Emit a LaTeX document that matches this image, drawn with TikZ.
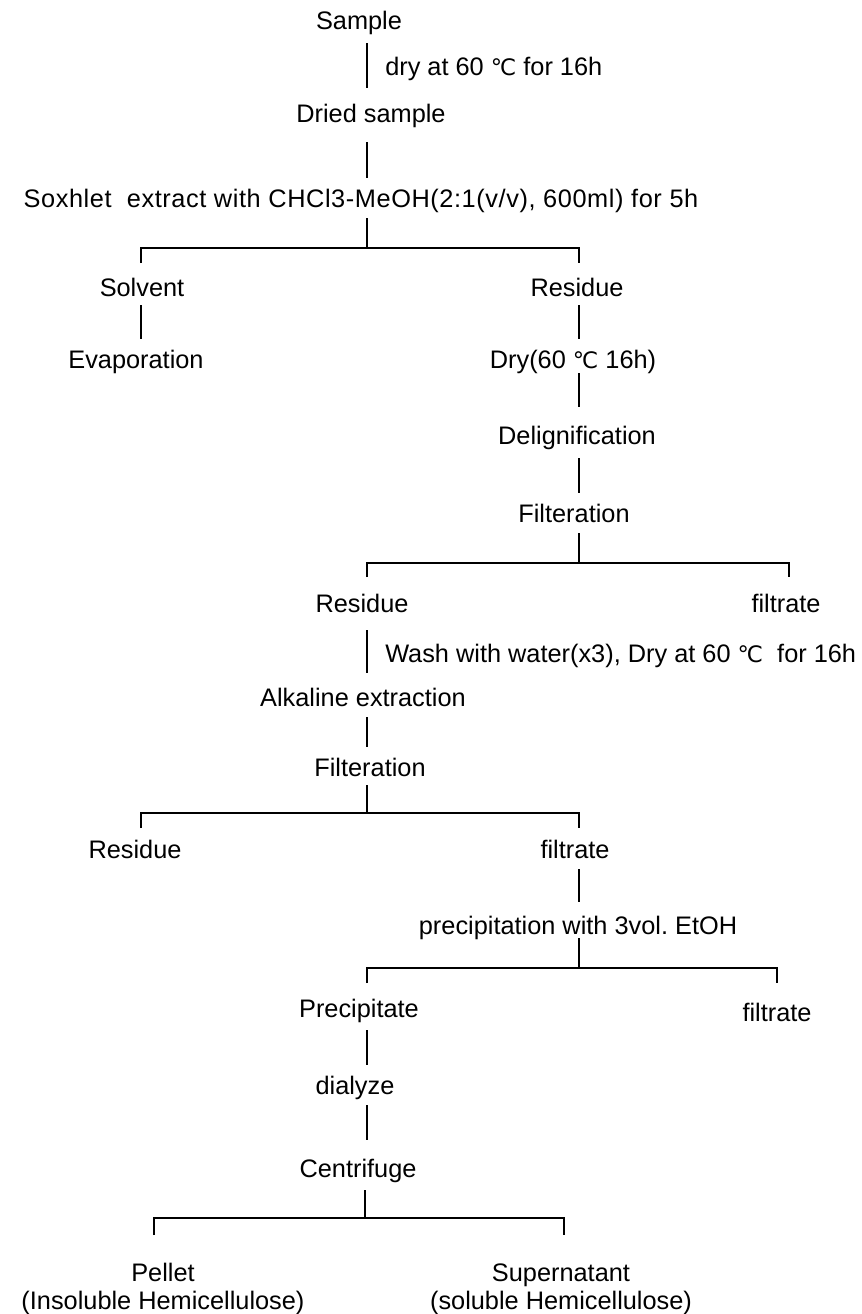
\documentclass[tikz,border=0pt]{standalone}
\usepackage{fontspec}
\setmainfont{Liberation Sans}
\newfontfamily\degfont{DejaVu Sans}
% degree Celsius sign, set a little smaller than the text around it
\newcommand{\degC}{{\degfont\fontsize{17}{17}\selectfont ℃}}
\frenchspacing
\begin{document}
\begin{tikzpicture}[x=0.75pt,y=-0.75pt,
  every node/.style={font=\fontsize{19}{21}\selectfont},
  txt/.style={inner xsep=0pt,inner ysep=8.25pt,text height=13.6pt,text depth=0pt},
  note/.style={txt,anchor=west},
  link/.style={line width=0.9pt}]
\useasboundingbox (0,0) rectangle (862,1314);

% vertical line columns
\coordinate (cA) at (367,0);
\coordinate (cL) at (141,0);
\coordinate (cR) at (579,0);

% steps
\node[txt] (sample)  at (359,20)  {Sample};
\node[note] (drylbl) at (385,66)  {dry at 60 \degC\ for 16h};
\node[txt] (dried)   at (371,113) {Dried sample};
\node[txt] (soxhlet) at (361,198) {\addfontfeature{LetterSpace=2.3}Soxhlet~ extract with CHCl3-MeOH(2:1(v/v), 600ml) for 5h};

\node[txt] (solvent) at (142,287) {Solvent};
\node[txt] (evap)    at (136,359) {Evaporation};
\node[txt] (res1)    at (577,287) {Residue};
\node[txt] (dry)     at (573,359) {Dry(60 \degC\ 16h)};
\node[txt] (delig)   at (577,435) {Delignification};
\node[txt] (filt1)   at (574,513) {Filteration};

\node[txt] (res2)    at (362,603) {Residue};
\node[txt] (filtr1)  at (786,603) {filtrate};
\node[note] (washlbl) at (385,653) {Wash with water(x3), Dry at 60 \degC\ \ for 16h};
\node[txt] (alk)     at (363,697) {Alkaline extraction};
\node[txt] (filt2)   at (370,767) {Filteration};

\node[txt] (res3)    at (135,849) {Residue};
\node[txt] (filtr2)  at (575,849) {filtrate};
\node[txt] (precip)  at (578,925) {precipitation with 3vol. EtOH};

\node[txt] (pptate)  at (359,1008) {Precipitate};
\node[txt] (filtr3)  at (777,1012) {filtrate};
\node[txt] (dialyze) at (355,1085) {dialyze};
\node[txt] (centri)  at (358,1168) {Centrifuge};

\node[txt] (pellet)   at (163,1272) {Pellet};
\node[txt] (pelletnt) at (163,1300) {(Insoluble Hemicellulose)};
\node[txt] (super)    at (561,1272) {Supernatant};
\node[txt] (supernt)  at (561,1300) {(soluble Hemicellulose)};

% connectors
\draw[link,shorten <=2.25pt,shorten >=3.75pt] (sample.south -| cA) -- (dried.north -| cA);
\draw[link,shorten <=6.75pt] (dried.south -| cA) -- (soxhlet.north -| cA);

\coordinate (j1) at (367,248);
\coordinate (t1L) at (141,263);
\coordinate (t1R) at (579,263);
\draw[link] (soxhlet.south -| j1) -- (j1);
\draw[link] (t1L) |- (j1) -| (t1R);

\draw[link,shorten <=-1.5pt] (solvent.south -| cL) -- (evap.north -| cL);
\draw[link,shorten <=-1.5pt] (res1.south -| cR) -- (dry.north -| cR);
\draw[link,shorten <=-4.5pt,shorten >=6pt] (dry.south -| cR) -- (delig.north -| cR);
\draw[link,shorten <=2.25pt] (delig.south -| cR) -- (filt1.north -| cR);

\coordinate (j2) at (579,563);
\coordinate (t2L) at (367,577);
\coordinate (t2R) at (789,577);
\draw[link] (filt1.south -| j2) -- (j2);
\draw[link] (t2L) |- (j2) -| (t2R);

\draw[link,shorten <=5.25pt,shorten >=3pt] (res2.south -| cA) -- (alk.north -| cA);
\draw[link] (alk.south -| cA) -- (filt2.north -| cA);

\coordinate (j3) at (367,813);
\coordinate (t3L) at (141,828);
\coordinate (t3R) at (579,828);
\draw[link,shorten <=-1.5pt] (filt2.south -| j3) -- (j3);
\draw[link] (t3L) |- (j3) -| (t3R);

\draw[link,shorten >=2.25pt] (filtr2.south -| cR) -- (precip.north -| cR);

\coordinate (j4) at (579,968);
\coordinate (t4L) at (367,983);
\coordinate (t4R) at (777,983);
\draw[link,shorten <=-5.25pt] (precip.south -| j4) -- (j4);
\draw[link] (t4L) |- (j4) -| (t4R);

\draw[link,shorten <=1.5pt] (pptate.south -| cA) -- (dialyze.north -| cA);
\draw[link,shorten >=6pt] (dialyze.south -| cA) -- (centri.north -| cA);

\coordinate (j5) at (365,1218);
\coordinate (t5L) at (154,1235);
\coordinate (t5R) at (564,1235);
\draw[link,shorten <=1.5pt] (centri.south -| j5) -- (j5);
\draw[link] (t5L) |- (j5) -| (t5R);
\end{tikzpicture}
\end{document}
